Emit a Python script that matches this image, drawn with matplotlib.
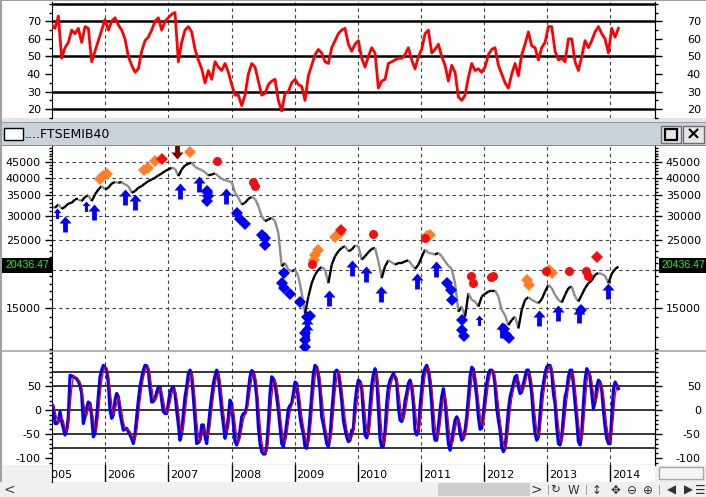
import numpy as np
import pandas as pd
import matplotlib
matplotlib.use("Agg")
import matplotlib.pyplot as plt
from matplotlib.patches import Rectangle
from matplotlib.path import Path
from matplotlib.markers import MarkerStyle
from matplotlib.collections import LineCollection
from matplotlib.ticker import FixedLocator, FuncFormatter, NullFormatter

plt.rcParams['font.family'] = ['DejaVu Sans']
plt.rcParams['font.size'] = 8

# ---------------------------------------------------------------------------
# data read off the screenshot (decimal years, sampled every ~19 days)
# ---------------------------------------------------------------------------
START = 2005.15
STEP = 0.05283

rsi = [68, 66, 73, 49, 55, 58, 65, 63, 66, 58,
       67, 66, 47, 53, 59, 65, 71, 65, 70, 72,
       68, 65, 60, 50, 45, 41, 43, 53, 59, 61,
       65, 70, 72, 65, 70, 72, 74, 75, 47, 58,
       65, 67, 64, 54, 48, 43, 35, 42, 37, 47,
       44, 42, 46, 41, 34, 28, 28, 22, 28, 40,
       46, 44, 36, 28, 29, 34, 36, 37, 25, 19,
       29, 30, 35, 37, 34, 33, 25, 39, 45, 51,
       54, 52, 47, 46, 55, 59, 63, 65, 66, 57,
       53,
       57, 59, 49, 44, 50, 55, 52, 32, 36, 37,
       46, 47, 48, 49, 49, 51, 55, 48, 43, 50,
       54, 63, 65, 52, 54, 57, 50, 45, 36, 45,
       41, 27, 25, 28, 38, 46, 42, 43, 41, 44,
       51, 54, 55, 45, 40, 35, 32, 40, 46, 39,
       51, 57, 64, 56, 55, 48, 55, 58, 67, 67,
       53, 48, 49, 47, 60, 60, 47, 42, 50, 59,
       55, 59, 64, 67, 63, 60, 52, 66, 61, 66]

price = [32100, 31860, 32680, 31600, 32100, 32900, 33090, 33930, 33930, 33510,
         34600, 35000, 33510, 35240, 36600, 37530, 36600, 37060, 38300, 38700,
         38490, 38700, 38010, 37530, 35690, 36140, 37060, 37530, 38300, 38980,
         39470, 39970, 40680, 41300, 42040, 42570, 43110, 42790, 40480, 42570,
         43880, 44430, 44770, 43440, 42790, 42360, 41720, 40680, 40990, 41300,
         40480, 39670, 39270, 38980, 38700, 35690, 34360, 32680, 33090, 34100,
         34600, 34100, 32270, 29920, 28800, 29180, 29550, 28800, 26380, 20490,
         21010, 19980, 19730, 19980, 18990, 16730, 14370, 16310, 18050, 19230,
         19980, 20390, 19980, 18050, 20750, 22110, 22960, 23550, 23850, 22960,
         23250,
         23970, 23850, 21550, 22110, 22790, 23370, 23550, 21280, 18750, 20490,
         21440, 21120, 20750, 21010, 21010, 21280, 21440, 20750, 20080, 20750,
         21990, 23250, 22670, 22560, 22390, 22670, 22110, 21280, 20590, 20080,
         18050, 14550, 15120, 14010, 16730, 15910, 15710, 15120, 16310, 16650,
         16940, 17070, 17070, 16310, 14740, 14190, 13150, 13670, 14010, 12830,
         14740, 15910, 16240, 15910, 15710, 15510, 15990, 16940, 17820, 17380,
         16520, 15910, 15590, 16520, 17380, 17600, 16310, 15710, 16520, 17380,
         18050, 18420, 19230, 19480, 19330, 19090, 18050, 19380, 20080, 20436.47]
LAST = 20436.47

# oscillator, sampled twice as often
osc = [14, 7, -28, -28, -24, -3, -24, -38, -52, -42,
       -14, 73, 72, 70, 68, 66, 60, 52, 35, -28,
       -14, 5, 17, 14, -14, -56, -49, -14, 30, 70,
       84, 94, 90, 84, 56, 0, -17, -10, 21, 35,
       28, -7, -25, -42, -40, -38, -45, -52, -60, -70,
       -52, -14, 20, 49, 68, 84, 94, 93, 84, 45,
       17, 18, 24, 38, 49, 49, 21, -3, -7, -7,
       14, 38, 45, 49, 35, 0, -30, -63, -49, -7,
       28, 49, 77, 84, 73, 28, -20, -70, -68, -63,
       -31, -31, -56, -70, -35, 0, 28, 56, 72, 84,
       73, 35, 0, -30, -59, -42, -14, 21, 14, -28,
       -66, -73, -63, -42, -14, -7, -7, 7, 42, 70,
       83, 80, 60, 28, -35, -70, -87, -92, -92, -77,
       -28, 35, 70, 66, 56, 28, 0, -35, -70, -77,
       -56, -28, 3, 10, 14, 35, 59, 56, 21, -14,
       -35, -49, -77, -80, -56, -14, 30, 77, 94, 90,
       73, 42, -14, -30, -49, -70, -77, -56, -7, 35,
       80, 84, 80, 52, 20, -21, -40, -56, -66, -63,
       -42,
       -40, 14, 45, 63, 60, 45, -7, -52, -58, -45,
       10, 52, 75, 87, 70, 7, -60, -77, -75, -45,
       14, 49, 63, 70, 77, 70, 60, 7, -21, -24,
       -14, 20, 35, 56, 63, 49, 14, -42, -52, -45,
       7, 45, 77, 88, 94, 84, 56, 14, -42, -63,
       -63, -35, 0, 28, 45, 21, -28, -70, -84, -63,
       -42, -21, -14, -21, -49, -63, -59, -42, -14, 28,
       70, 90, 86, 56, 28, -14, -40, -38, -7, 28,
       56, 77, 84, 84, 80, 52, 5, -21, -42, -77,
       -87, -80, -42, 0, 28, 42, 56, 70, 73, 49,
       35, 38, 56, 70, 84, 84, 63, 35, -14, -49,
       -63, -56, -7, 35, 56, 77, 91, 94, 94, 80,
       35, 14, -35, -70, -73, -56, -14, 28, 42, 70,
       84, 84, 56, 14, -21, -66, -73, -49, 14, 63,
       87, 80, 70, 35, 3, 17, 49, 63, 59, 42,
       0, -35, -59, -70, -70, -14, 42, 59, 52, 45]

dates = START + STEP * np.arange(len(rsi))
osc_dates = START + STEP / 2 * np.arange(len(osc))

# signals
buy_x = [2005.360, 2005.825, 2006.312, 2006.471, 2007.185, 2007.487, 2007.619,
         2007.910, 2009.196, 2009.196, 2009.540, 2009.910, 2010.132, 2010.376,
         2010.942, 2011.233, 2012.291, 2012.873, 2013.180, 2013.508, 2013.974]
buy_y = [29920, 32680, 36600, 35240, 38490, 40480, 37530, 37060, 14010, 13320,
         17160, 21550, 20490, 17600, 19480, 21280, 13480, 14740, 15310, 15120, 18050]
buy_small_x = [2005.238, 2005.693, 2011.921]
buy_small_y = [31860, 33510, 14190]

blue_x = [2007.608, 2007.635, 2007.608, 2008.085, 2008.138, 2008.217, 2008.481,
          2008.534, 2008.534, 2008.825, 2008.799, 2008.825, 2008.921, 2009.090,
          2009.196, 2009.249, 2009.169, 2009.169, 2009.169, 2011.418, 2011.471,
          2011.497, 2011.646, 2011.656, 2011.683, 2012.317, 2012.354, 2012.397, 2013.534]
blue_y = [36140, 34800, 33510, 30690, 29180, 28100, 26050, 25400, 24150, 19480,
          18050, 17380, 16620, 15710, 14010, 14080, 12350, 11750, 11180, 18050,
          17160, 15910, 13670, 12670, 12150, 12740, 12200, 11950, 14740]

orange_x = [2005.915, 2005.968, 2006.021, 2006.619, 2006.683, 2006.788, 2007.344,
            2009.302, 2009.328, 2009.365, 2009.646, 2009.714, 2011.101, 2011.138,
            2012.688, 2012.714, 2013.032, 2013.074]
orange_y = [39470, 40480, 41210, 42250, 42970, 45340, 48640, 21550, 22390, 23130,
            25590, 26380, 25720, 26050, 18510, 17820, 19880, 19480]

red_x = [2007.767, 2008.339, 2008.365, 2009.275, 2010.243, 2011.063, 2011.788,
         2011.825, 2012.106, 2012.143, 2012.989, 2013.349, 2013.614, 2013.646]
red_y = [45340, 38700, 37530, 20900, 26230, 25400, 18990, 18050, 18890, 19090,
         19730, 19730, 19730, 18990]
red_d_x = [2006.894, 2009.735, 2013.799]
red_d_y = [45900, 26900, 21990]

sell_x = [2007.132]
sell_y = [46150]

YEARS = list(range(2006, 2015))
X0, X1 = 2005.155, 2014.711

# ---------------------------------------------------------------------------
W, H = 706, 497
fig = plt.figure(figsize=(W / 100, H / 100), dpi=100, facecolor='#F0F0F0')


def box(x, y, w, h, zorder=-5, **kw):
    kw.setdefault('lw', 0)
    fig.add_artist(Rectangle((x / W, 1 - (y + h) / H), w / W, h / H,
                             transform=fig.transFigure, zorder=zorder, **kw))


def label(x, y, s, **kw):
    return fig.text(x / W, 1 - y / H, s, **kw)


def panel(y0, y1):
    return fig.add_axes([52 / W, 1 - y1 / H, 603 / W, (y1 - y0) / H])


# window chrome
box(0, 0, 706, 1, fc='#A0A0A0')
box(2, 1, 704, 117, fc='white')
box(0, 118, 706, 5, fc='#E4E4E4')
box(0, 122, 706, 1, fc='#9A9A9A')
box(0, 123, 706, 22, fc='#C8D3DE')
box(0, 145, 706, 1, fc='#8A8A8A')
box(2, 146, 704, 204, fc='white')
box(0, 350, 706, 2, fc='#B4B4B4')
box(2, 352, 704, 113, fc='white')
box(0, 0, 2, 482, fc='#A0A0A0', zorder=-4)
box(0, 482, 706, 15, fc='#F0F0F0')
box(438, 483, 92, 13, fc='#CDCDCD')
box(659, 467, 44, 12, fc='#F4F4F4', ec='#A8A8A8', lw=1)

# title bar
box(4, 128, 19, 12, fc='white', ec='black', lw=1, zorder=2)
label(25, 134.5, '....FTSEMIB40', fontsize=9, va='center', ha='left')
box(661, 126, 20, 17, fc='#E6E6E6', ec='#6E6E6E', lw=1, zorder=2)
box(683, 126, 21, 17, fc='#E6E6E6', ec='#6E6E6E', lw=1, zorder=2)
box(665, 129, 12, 11, fc='none', ec='black', lw=1.6, zorder=3)
label(693.5, 134.5, '×', fontsize=13, fontweight='bold', ha='center', va='center')

# toolbar
label(9, 490, '<', fontsize=10, ha='center', va='center', color='#404040')
label(536, 490, '>', fontsize=10, ha='center', va='center', color='#404040')
for sx in (548, 586, 659):
    box(sx, 485, 1, 10, fc='#A0A0A0')
for sx, s in [(555, '↻'), (573, 'W'), (597, '↕'), (615, '✥'), (632, '⊖'),
              (648, '⊕'), (671, '◀'), (688, '▶'), (700, '☰')]:
    label(sx, 490, s, fontsize=8.5, ha='center', va='center', color='#303030')


def style(ax, ylim, major, minor, hidden=()):
    ax.set_xlim(X0, X1)
    ax.set_ylim(*ylim)
    ax.set_facecolor('white')
    for s in ('top', 'bottom'):
        ax.spines[s].set_visible(False)
    ax.set_xticks([])
    # labels under the last-price tag are not shown
    fmt = FuncFormatter(lambda v, p: '' if v in hidden else f"{v:g}")
    sec = ax.secondary_yaxis('right')
    for a in (ax, sec):
        a.yaxis.set_major_locator(FixedLocator(major))
        a.yaxis.set_minor_locator(FixedLocator(minor))
        a.yaxis.set_major_formatter(fmt)
        a.yaxis.set_minor_formatter(NullFormatter())
        a.tick_params(axis='y', which='major', length=5, width=1, labelsize=8,
                      colors='black')
        a.tick_params(axis='y', which='minor', length=2.5, width=1)
    ax.tick_params(axis='y', which='major', pad=3)
    sec.tick_params(axis='y', which='major', pad=28)
    for t in sec.get_yticklabels():
        t.set_ha('right')
    for yr in YEARS:
        ax.axvline(yr, color='#404040', lw=0.8, ls=(0, (3, 3)), zorder=1)
    return sec


# --- RSI panel ---
ax1 = panel(2, 118)
style(ax1, (15, 81), [20, 30, 40, 50, 60, 70], list(range(15, 81, 5)))
for lvl in (80, 70, 50, 30, 20):
    ax1.axhline(lvl, color='black', lw=1.8, zorder=1.5)
ax1.plot(dates, rsi, color='#FF0000', lw=2.0, zorder=3)

# --- price panel ---
ax2 = panel(146, 350)
ax2.set_yscale('log')
majors = [15000, 20000, 25000, 30000, 35000, 40000, 45000]
minors = [v for v in range(11000, 51000, 1000) if v not in majors]
style(ax2, (10900, 50800), majors, minors, hidden=(20000,))
for lvl in majors:
    ax2.axhline(lvl, color='#404040', lw=0.8, ls=(0, (3, 3)), zorder=1)

pts = np.column_stack([dates, price])
segs = np.stack([pts[:-1], pts[1:]], axis=1)
falling = np.diff(price) < 0
cols = np.where(falling, '#8C8C8C', 'black')
ax2.add_collection(LineCollection(segs, colors=cols, lw=1.7, zorder=2))

up = Path([(0, 0), (0.38, -0.44), (0.15, -0.44), (0.15, -1), (-0.15, -1),
           (-0.15, -0.44), (-0.38, -0.44), (0, 0)],
          [Path.MOVETO] + [Path.LINETO] * 6 + [Path.CLOSEPOLY])
down = Path([(0, 0), (0.38, 0.44), (0.15, 0.44), (0.15, 1), (-0.15, 1),
             (-0.15, 0.44), (-0.38, 0.44), (0, 0)],
            [Path.MOVETO] + [Path.LINETO] * 6 + [Path.CLOSEPOLY])
mk = dict(ls='none', mew=0, zorder=4)
ax2.plot(orange_x, orange_y, marker='D', ms=6, color='#FF7F27', **mk)
ax2.plot(red_x, red_y, marker='o', ms=6.5, color='#F01010', **mk)
ax2.plot(red_d_x, red_d_y, marker='D', ms=6, color='#F01010', **mk)
ax2.plot(blue_x, blue_y, marker='D', ms=6, color='#0000FF', **mk)
ax2.plot(buy_x, buy_y, marker=MarkerStyle(up), ms=23, color='#0000FF', **mk)
ax2.plot(buy_small_x, buy_small_y, marker=MarkerStyle(up), ms=15, color='#0000FF', **mk)
ax2.plot(sell_x, sell_y, marker=MarkerStyle(down), ms=23, color='#7A0000', **mk)

# last price tags
tag = dict(fontsize=7.6, family=['Liberation Sans', 'DejaVu Sans'], color='#22EE22',
           va='center', ha='left', zorder=6,
           bbox=dict(fc='black', ec='none', boxstyle='square,pad=0.25'))
label(5, 265.5, f"{LAST:.2f}", **tag)
label(662, 265.5, f"{LAST:.2f}", **tag)

# --- oscillator panel ---
ax3 = panel(352, 465)
style(ax3, (-115, 122), [-100, -50, 0, 50], list(range(-110, 121, 10)))
ax3.spines['bottom'].set_visible(True)
for lvl in (80, 50, 0, -50, -80):
    ax3.axhline(lvl, color='black', lw=1.1, zorder=1.5)
signal = pd.Series(osc).rolling(3, min_periods=1).mean()
ax3.plot(osc_dates, osc, color='#0000FF', lw=2.3, zorder=3)
ax3.plot(osc_dates, signal, color='#E00000', lw=0.9, zorder=4)

# --- date strip ---
axx = fig.add_axes([52 / W, 1 - 482 / H, 603 / W, 17 / H])
axx.set_xlim(X0, X1)
axx.set_ylim(0, 1)
axx.set_xticks([])
axx.set_yticks([])
for s in ('top', 'right', 'bottom'):
    axx.spines[s].set_visible(False)
for yr in range(2005, 2015):
    axx.axvline(yr, color='black', lw=1)
    axx.text(yr + 0.03, 0.42, str(yr), ha='left', va='center', fontsize=8,
             clip_on=True)

fig.savefig('out.png', dpi=100, facecolor=fig.get_facecolor())
